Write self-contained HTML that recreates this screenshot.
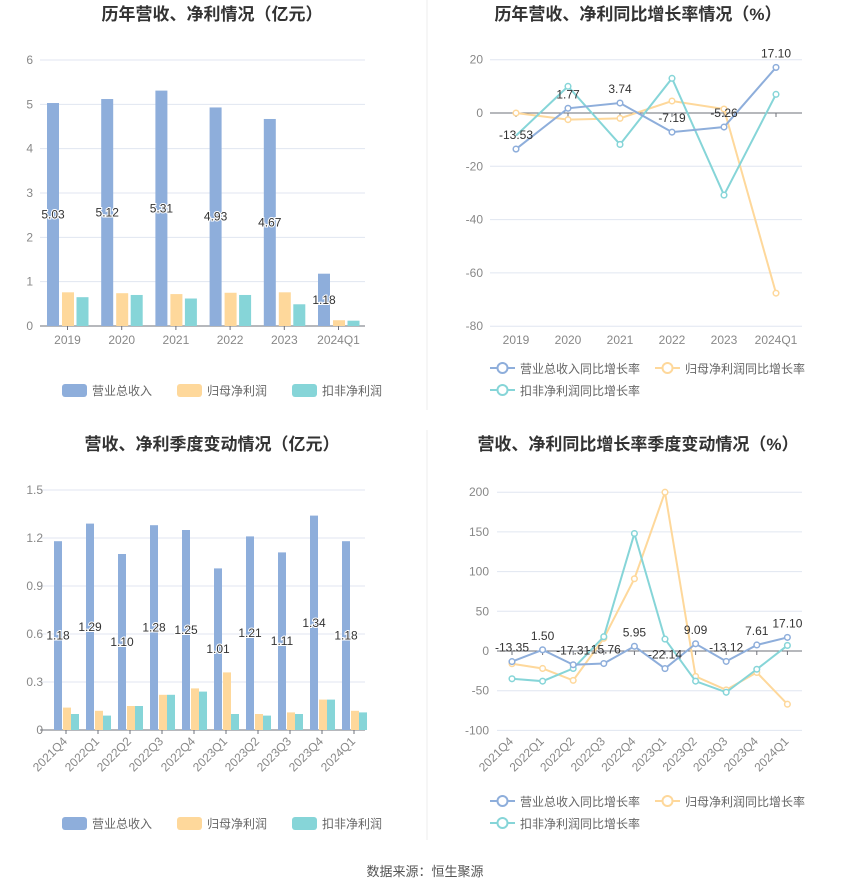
<!DOCTYPE html>
<html><head><meta charset="utf-8"><style>
body{margin:0;background:#fff;width:850px;height:891px;overflow:hidden}
svg{display:block;font-family:"Liberation Sans","Noto Sans CJK SC",sans-serif}
</style></head><body>
<svg id="s" width="850" height="891" xmlns="http://www.w3.org/2000/svg"></svg>
<script>
const B='#8eaedb',O='#fed89b',T='#86d5d8';
let h='';
function t(x,y,s,o){o=o||{};h+=`<text x="${x}" y="${y}" font-size="${o.fs||12}" fill="${o.c||'#888'}" text-anchor="${o.a||'middle'}" ${o.w?'font-weight="bold"':''} ${o.tr?`transform="${o.tr}"`:''}>${s}</text>`;}
function l(x1,y1,x2,y2,c,w){h+=`<line x1="${x1}" y1="${y1}" x2="${x2}" y2="${y2}" stroke="${c}" stroke-width="${w||1}"/>`;}
function r(x,y,w,hh,c){h+=`<rect x="${x}" y="${y}" width="${w}" height="${hh}" fill="${c}"/>`;}
// titles
t(212,20,'历年营收、净利情况（亿元）',{fs:17,c:'#333',w:1});
t(638,20,'历年营收、净利同比增长率情况（%）',{fs:17,c:'#333',w:1});
t(212,450,'营收、净利季度变动情况（亿元）',{fs:17,c:'#333',w:1});
t(638,450,'营收、净利同比增长率季度变动情况（%）',{fs:17,c:'#333',w:1});
l(427,0,427,410,'#eee');l(427,430,427,840,'#eee');
t(425,876,'数据来源：恒生聚源',{fs:13,c:'#555'});
// chart1
{const y0=326,k=44.33;for(let i=0;i<=6;i++){const y=y0-i*k;if(i)l(40,y,365,y,'#e0e6f1');t(33,y+4,i,{a:'end'});}
l(40,y0,365,y0,'#6e7079');
const cats=['2019','2020','2021','2022','2023','2024Q1'],b=[5.03,5.12,5.31,4.93,4.67,1.18],o=[.76,.74,.72,.75,.76,.13],te=[.65,.70,.62,.70,.49,.12];
cats.forEach((c,i)=>{const cx=67.5+54.2*i;r(cx-20.5,y0-b[i]*k,12,b[i]*k,B);r(cx-5.5,y0-o[i]*k,12,o[i]*k,O);r(cx+9,y0-te[i]*k,12,te[i]*k,T);
l(cx,y0,cx,y0+4,'#6e7079');t(cx,y0+18,c);
h+=`<text x="${cx-14.5}" y="${y0-b[i]*k/2+4}" font-size="12" fill="#333" text-anchor="middle" stroke="#fff" stroke-width="2" paint-order="stroke">${b[i].toFixed(2)}</text>`;});}
// chart3
{const y0=730,k=160;[0,.3,.6,.9,1.2,1.5].forEach((v,i)=>{const y=y0-v*k;if(i)l(40,y,365,y,'#e0e6f1');t(43,y+4,v==0?'0':v.toFixed(1).replace(/^1\.5$/,'1.5'),{a:'end'});});
l(40,y0,365,y0,'#6e7079');
const cats=['2021Q4','2022Q1','2022Q2','2022Q3','2022Q4','2023Q1','2023Q2','2023Q3','2023Q4','2024Q1'],b=[1.18,1.29,1.10,1.28,1.25,1.01,1.21,1.11,1.34,1.18],o=[.14,.12,.15,.22,.26,.36,.10,.11,.19,.12],te=[.10,.09,.15,.22,.24,.10,.09,.10,.19,.11];
cats.forEach((c,i)=>{const cx=66+32*i;r(cx-12,y0-b[i]*k,8,b[i]*k,B);r(cx-3,y0-o[i]*k,8,o[i]*k,O);r(cx+5,y0-te[i]*k,8,te[i]*k,T);
l(cx,y0,cx,y0+4,'#6e7079');t(cx+2,y0+12,c,{a:'end',tr:`rotate(-45 ${cx+2} ${y0+12})`});
h+=`<text x="${cx-8}" y="${y0-b[i]*k/2+4}" font-size="12" fill="#333" text-anchor="middle" stroke="#fff" stroke-width="2" paint-order="stroke">${b[i].toFixed(2)}</text>`;});}
function line(xs,ys,c,skipFirst){h+=`<polyline points="${xs.map((x,i)=>x+','+ys[i]).join(' ')}" fill="none" stroke="${c}" stroke-width="2"/>`;xs.forEach((x,i)=>{if(skipFirst&&i==0)return;h+=`<circle cx="${x}" cy="${ys[i]}" r="2.8" fill="#fff" stroke="${c}" stroke-width="1.5"/>`;});}
// chart2
{const y0=113,k=53.3/20;for(let v=-80;v<=20;v+=20){const y=y0-v*k;if(v)l(490,y,802,y,'#e0e6f1');t(483,y+4,v,{a:'end'});}
l(490,y0,802,y0,'#6e7079');
const cats=['2019','2020','2021','2022','2023','2024Q1'],xs=cats.map((c,i)=>516+52*i);
cats.forEach((c,i)=>{l(xs[i],y0,xs[i],y0+4,'#6e7079');t(xs[i],y0+231,c);});
const b=[-13.53,1.77,3.74,-7.19,-5.26,17.10],o=[0,-2.5,-2,4.5,1.5,-67.6],te=[-8.5,10,-11.8,13,-30.8,7];
line(xs,o.map(v=>y0-v*k),O);line(xs,te.map(v=>y0-v*k),T,1);line(xs,b.map(v=>y0-v*k),B);
b.forEach((v,i)=>t(xs[i],y0-v*k-10,v.toFixed(2),{c:'#333'}));}
// chart4
{const y0=651,k=39.7/50;for(let v=-100;v<=200;v+=50){const y=y0-v*k;if(v)l(497,y,802,y,'#e0e6f1');t(489,y+4,v,{a:'end'});}
l(497,y0,802,y0,'#6e7079');
const cats=['2021Q4','2022Q1','2022Q2','2022Q3','2022Q4','2023Q1','2023Q2','2023Q3','2023Q4','2024Q1'],xs=cats.map((c,i)=>512+30.6*i);
cats.forEach((c,i)=>{l(xs[i],y0,xs[i],y0+4,'#6e7079');t(xs[i]+2,742,c,{a:'end',tr:`rotate(-45 ${xs[i]+2} 742)`});});
const b=[-13.35,1.5,-17.31,-15.76,5.95,-22.14,9.09,-13.12,7.61,17.10],o=[-16,-22,-37,16,91,200,-32,-49,-27,-67],te=[-35,-38,-22,18,148,15,-38,-52,-23,7];
line(xs,o.map(v=>y0-v*k),O);line(xs,te.map(v=>y0-v*k),T);line(xs,b.map(v=>y0-v*k),B);
b.forEach((v,i)=>t(xs[i],y0-v*k-10,v.toFixed(2),{c:'#333'}));}
// legends
function rl(x,y){[[B,'营业总收入'],[O,'归母净利润'],[T,'扣非净利润']].forEach((p,i)=>{const xx=x+i*115;h+=`<rect x="${xx}" y="${y-6}" width="25" height="13" rx="3" fill="${p[0]}"/>`;t(xx+30,y+5,p[1],{a:'start',c:'#666'});});}
rl(62,390);rl(62,823);
function ll(y){const it=[[B,'营业总收入同比增长率',490,y],[O,'归母净利润同比增长率',655,y],[T,'扣非净利润同比增长率',490,y+22]];it.forEach(p=>{l(p[2],p[3],p[2]+25,p[3],p[0],2);h+=`<circle cx="${p[2]+12.5}" cy="${p[3]}" r="5" fill="#fff" stroke="${p[0]}" stroke-width="2"/>`;t(p[2]+30,p[3]+5,p[1],{a:'start',c:'#666'});});}
ll(368);ll(801);
document.getElementById('s').innerHTML=h;
</script>
</body></html>
